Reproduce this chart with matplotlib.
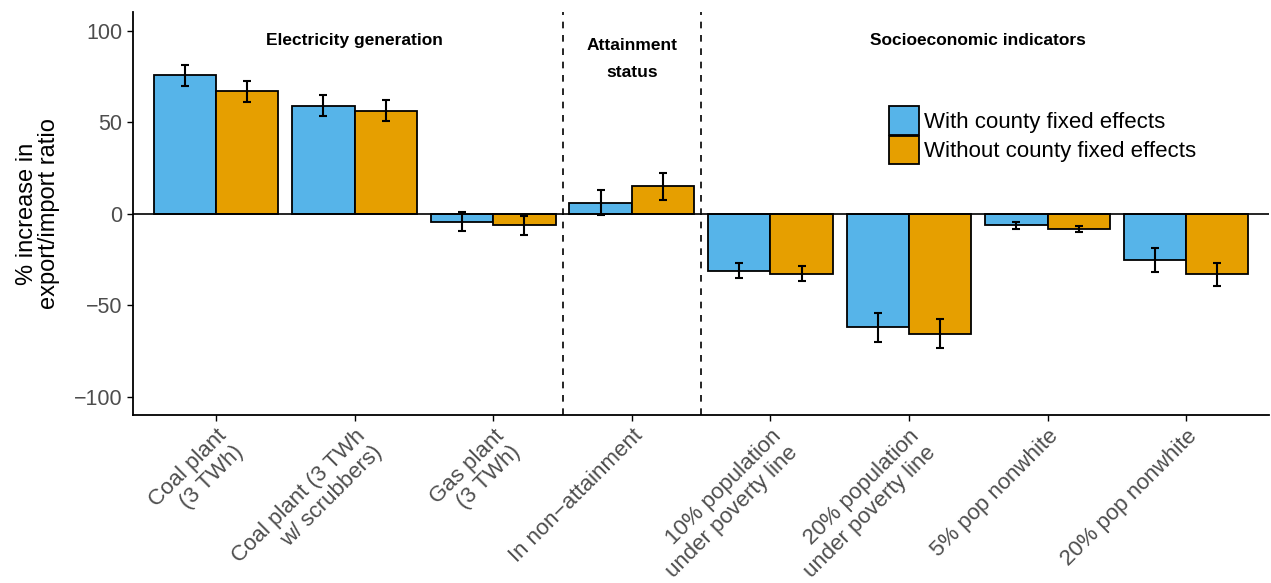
import numpy as np
import matplotlib
matplotlib.use("Agg")
import matplotlib.pyplot as plt
from matplotlib.patches import Patch

plt.rcParams['font.family'] = ['Liberation Sans', 'DejaVu Sans']

categories = ["Coal plant\n(3 TWh)", "Coal plant (3 TWh\nw/ scrubbers)", "Gas plant\n(3 TWh)",
              "In non\u2212attainment", "10% population\nunder poverty line",
              "20% population\nunder poverty line", "5% pop nonwhite", "20% pop nonwhite"]

# with county fixed effects
fe_value = [75.7, 58.9, -4.4, 5.8, -31.1, -62.1, -6.2, -25.2]
fe_low = [69.9, 53.4, -9.4, -0.7, -35.3, -70.3, -8.2, -31.6]
fe_high = [81.2, 64.9, 0.7, 13.1, -27.1, -54.3, -4.7, -18.9]

# without county fixed effects
nofe_value = [67.0, 56.1, -6.4, 14.9, -32.7, -65.6, -8.3, -33.2]
nofe_low = [61.0, 50.7, -11.4, 7.3, -36.9, -73.6, -10.0, -39.6]
nofe_high = [72.5, 62.1, -1.5, 22.3, -28.7, -57.6, -6.7, -27.1]

groups = ["Electricity generation", "Attainment\nstatus", "Socioeconomic indicators"]
group_x = [2, 4, 6.5]
group_y = [94.3, 84.5, 94.3]

blue = "#56B4E9"
orange = "#E69F00"

fig = plt.figure(figsize=(12.71, 5.83), dpi=100)
ax = fig.add_axes([0.1046, 0.288, 0.894, 0.691])

x = np.arange(1, len(categories) + 1)
w = 0.45

def draw(xpos, vals, lo, hi, col):
    vals = np.array(vals)
    ax.bar(xpos, vals, width=w, color=col, edgecolor="black", linewidth=1.3, zorder=2)
    err = np.vstack([vals - np.array(lo), np.array(hi) - vals])
    ax.errorbar(xpos, vals, yerr=err, fmt="none", ecolor="black", elinewidth=1.5,
                capsize=2.6, capthick=1.5, zorder=3)

draw(x - w / 2, fe_value, fe_low, fe_high, blue)
draw(x + w / 2, nofe_value, nofe_low, nofe_high, orange)

ax.axhline(0, color="black", linewidth=1.2, zorder=4)
for xv in [3.5, 4.5]:
    ax.axvline(xv, color="black", linestyle=(0, (4, 4)), linewidth=1.2, zorder=1)

for gx, gy, gl in zip(group_x, group_y, groups):
    ax.text(gx, gy, gl, ha="center", va="center", fontsize=12.5, fontweight="bold",
            color="black", linespacing=2.0)

ax.set_xlim(0.4, 8.6)
ax.set_ylim(-110, 110)
ax.set_yticks([-100, -50, 0, 50, 100])
ax.set_yticklabels(["\u2212100", "\u221250", "0", "50", "100"])
ax.set_xticks(x)
ax.set_xticklabels(categories, rotation=45, ha="right", rotation_mode="anchor",
                   linespacing=1.15)
ax.tick_params(axis="both", colors="#4D4D4D", labelsize=16, length=4, width=1)
ax.tick_params(axis="both", color="black")
ax.tick_params(axis="y", labelsize=15.5)
ax.set_ylabel("% increase in\nexport/import ratio", fontsize=17, linespacing=1.0,
              labelpad=10)

for s in ["top", "right"]:
    ax.spines[s].set_visible(False)
for s in ["left", "bottom"]:
    ax.spines[s].set_linewidth(1.3)

handles = [Patch(facecolor=blue, edgecolor="black", linewidth=1.3),
           Patch(facecolor=orange, edgecolor="black", linewidth=1.3)]
ax.legend(handles, ["With county fixed effects", "Without county fixed effects"],
          loc="upper left", bbox_to_anchor=(0.665, 0.767), frameon=False, fontsize=16,
          handlelength=1.35, handleheight=1.62, handletextpad=0.23, labelspacing=0.03,
          borderaxespad=0, borderpad=0)

fig.savefig("out.png", dpi=100)
